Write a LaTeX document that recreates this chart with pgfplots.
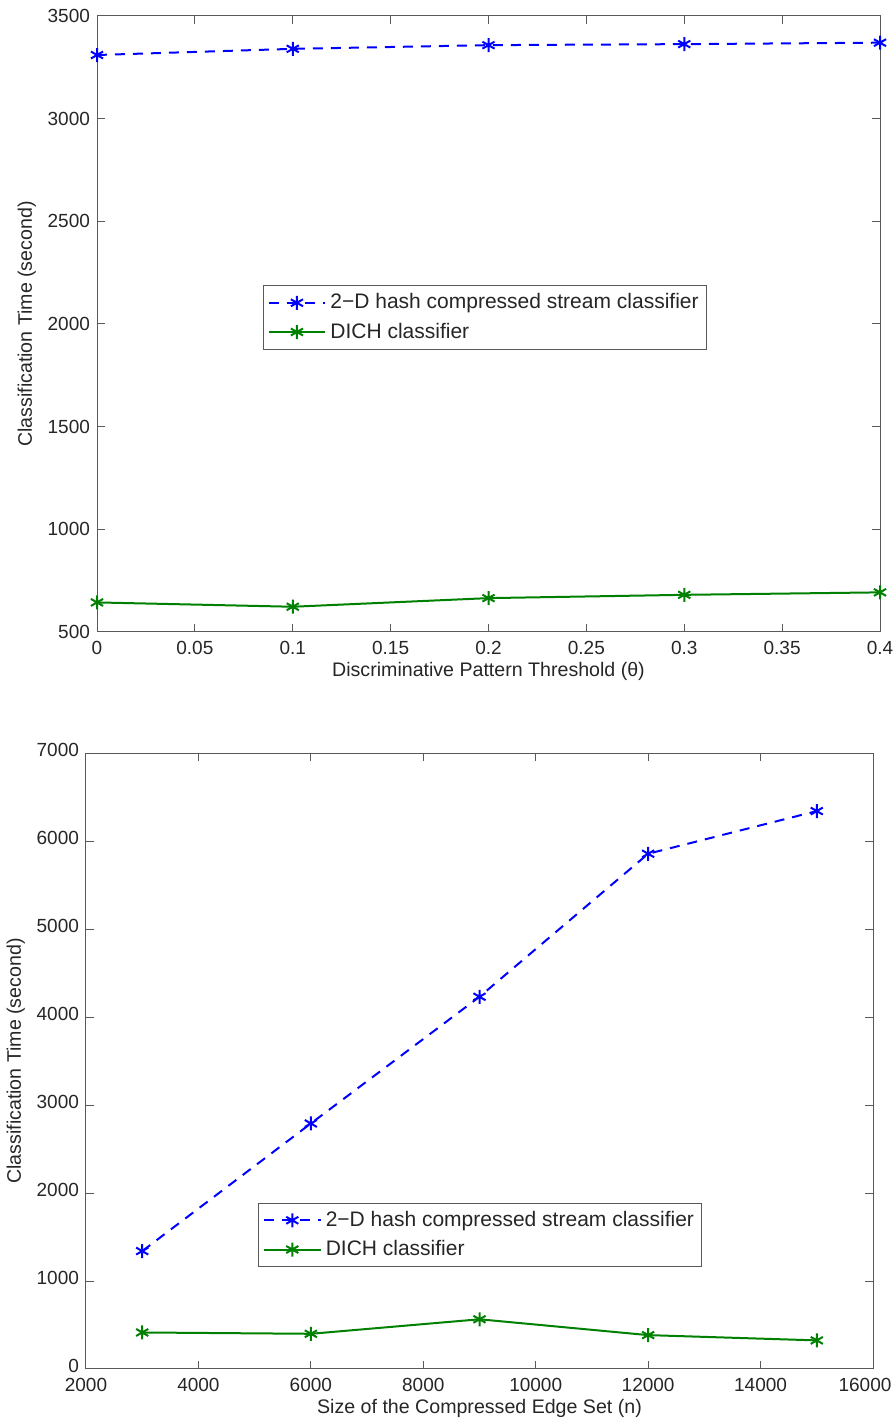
\documentclass[border=0pt]{standalone}
\usepackage{fontspec}
\setmainfont{Liberation Sans}
\usepackage{pgfplots}
\pgfplotsset{compat=1.18}
\definecolor{mblue}{rgb}{0,0,1}
\definecolor{mgreen}{rgb}{0,0.5,0}
\definecolor{axgray}{rgb}{0.35,0.35,0.35}
\pgfplotsset{
  mystyle/.style={
    scale only axis,
    width=391.5pt, height=308pt,
    axis line style={axgray, line width=0.5pt},
    tick style={axgray, line width=0.5pt},
    tick align=inside,
    major tick length=4pt,
    /pgf/number format/assume math mode=true,
    tick label style={font=\fontsize{9.5}{11}\selectfont, text=black!85},
    xticklabel style={yshift=-1pt},
    label style={font=\fontsize{9.8}{11}\selectfont, text=black!85},
    legend style={font=\fontsize{10.5}{12}\selectfont, draw=axgray, line width=0.5pt, inner sep=2pt, row sep=1.5pt, text=black!85},
    legend cell align=left,
    legend image code/.code={
      \draw[mark repeat=2,mark phase=2] plot coordinates {(0cm,0cm) (0.5cm,0cm) (1.0cm,0cm)};
    },
    /pgf/number format/1000 sep={},
    scaled ticks=false,
  },
  blueline/.style={mblue, dash pattern=on 5pt off 4pt, line width=1pt, mark=asterisk, mark size=3.5pt, mark options={solid, line width=1pt}},
  greenline/.style={mgreen, solid, line width=1pt, mark=asterisk, mark size=3.5pt, mark options={line width=1pt}},
}
\begin{document}
\begin{tikzpicture}
\path[use as bounding box] (0,0) rectangle (447.5pt,-714pt);
\begin{axis}[mystyle,
  at={(48.5pt,-8pt)}, anchor=north west,
  xmin=0, xmax=0.4, ymin=500, ymax=3500,
  xtick={0,0.05,...,0.4},
  xticklabels={0,0.05,0.1,0.15,0.2,0.25,0.3,0.35,0.4},
  ytick={500,1000,...,3500},
  xlabel={Discriminative Pattern Threshold (θ)},
  ylabel={Classification Time (second)},
  xlabel style={yshift=3pt},
  ylabel style={yshift=-1pt},
  legend style={at={(0.212,0.563)}, anchor=north west},
]
\addplot[blueline] coordinates {(0,3310) (0.1,3340) (0.2,3358) (0.3,3363) (0.4,3370)};
\addlegendentry{2−D hash compressed stream classifier}
\addplot[greenline] coordinates {(0,644) (0.1,623) (0.2,665) (0.3,681) (0.4,693)};
\addlegendentry{DICH classifier}
\end{axis}
\begin{axis}[mystyle,
  at={(43pt,-376.5pt)}, anchor=north west,
  width=393.5pt,
  xmin=2000, xmax=16000, ymin=0, ymax=7000,
  xtick={2000,4000,...,16000},
  xticklabels={2000,4000,6000,8000,10000,12000,14000,{\hspace*{-8pt}16000}},
  ytick={0,1000,...,7000},
  yticklabel style={yshift=1.5pt},
  xlabel={Size of the Compressed Edge Set (n)},
  ylabel={Classification Time (second)},
  xlabel style={yshift=3pt},
  ylabel style={yshift=-1pt},
  legend style={at={(0.219,0.27)}, anchor=north west},
]
\addplot[blueline] coordinates {(3000,1340) (6000,2790) (9000,4230) (12000,5855) (15000,6340)};
\addlegendentry{2−D hash compressed stream classifier}
\addplot[greenline] coordinates {(3000,415) (6000,400) (9000,565) (12000,385) (15000,325)};
\addlegendentry{DICH classifier}
\end{axis}
\end{tikzpicture}
\end{document}
